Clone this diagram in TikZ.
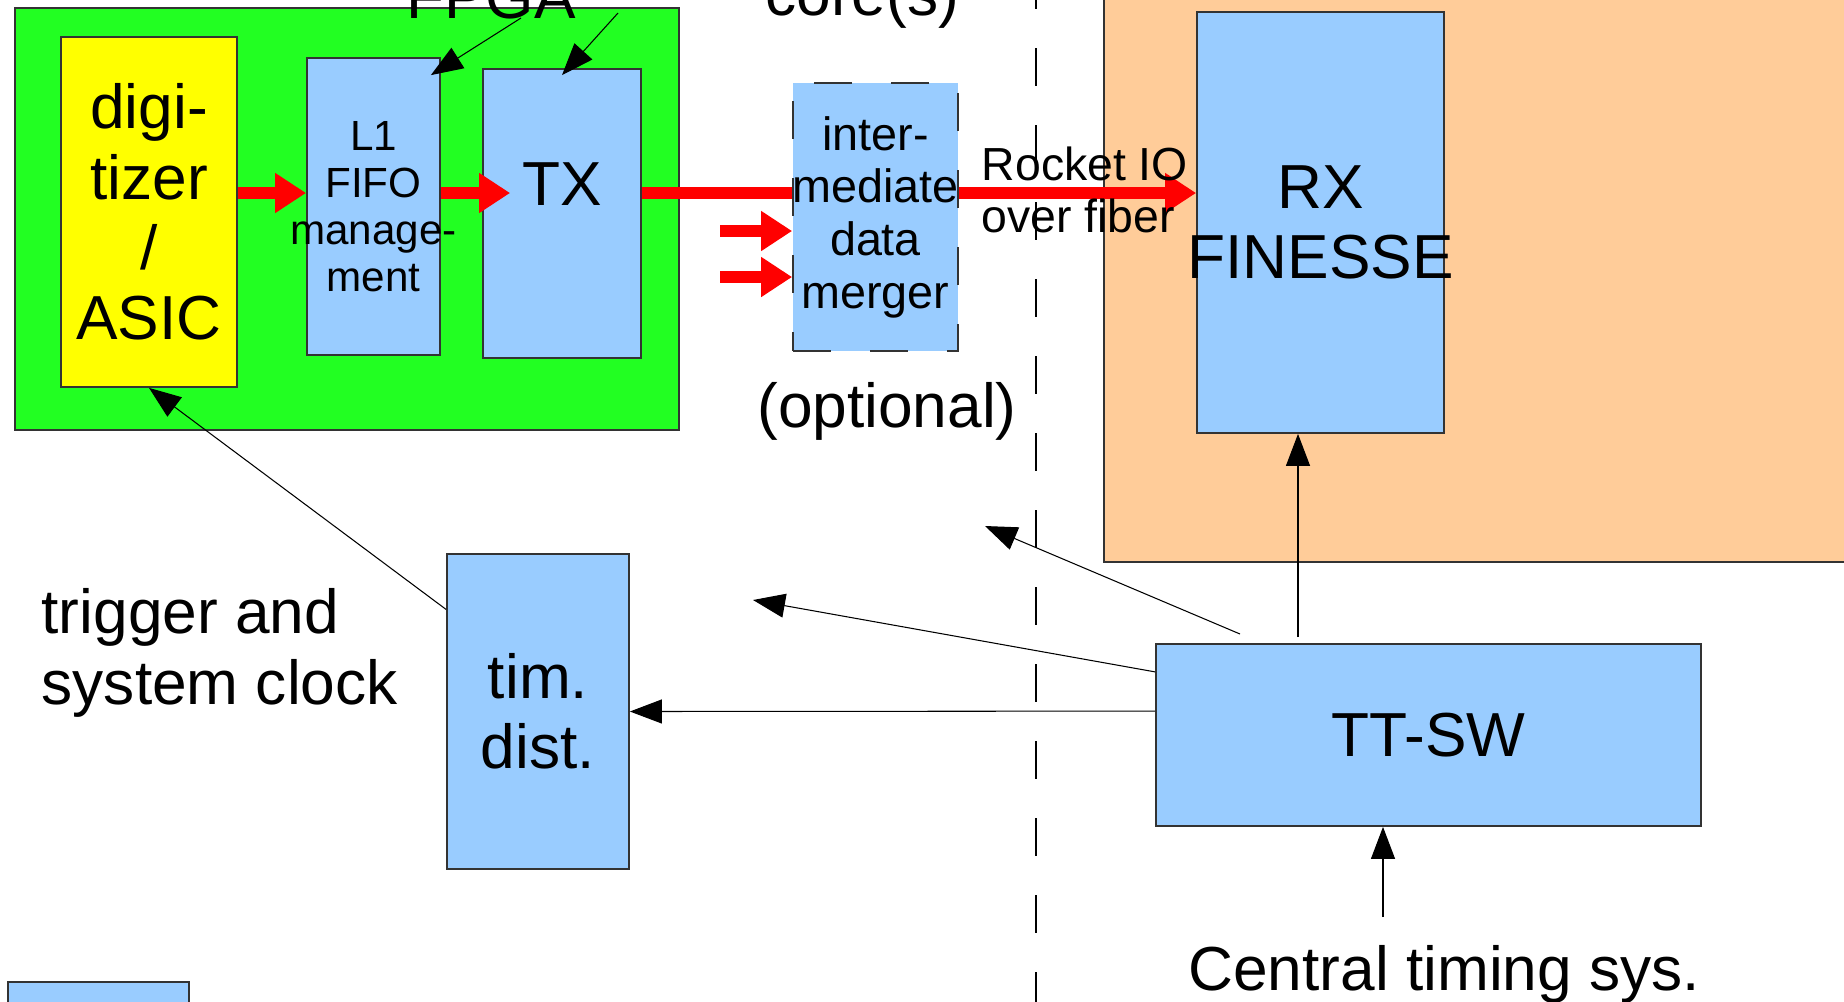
\documentclass[tikz,border=0pt]{standalone}
\usepackage{fontspec}
\setmainfont{Liberation Sans}
\usetikzlibrary{arrows.meta}
\definecolor{board}{HTML}{22FF22}
\definecolor{asic}{HTML}{FFFF00}
\definecolor{block}{HTML}{99CCFF}
\definecolor{backend}{HTML}{FFCC99}
\definecolor{datared}{HTML}{FF0000}
\definecolor{edge}{HTML}{333333}
\newcommand\fbig{\fontsize{17.7}{20}\selectfont}
\newcommand\fmid{\fontsize{13.3}{15}\selectfont}
\newcommand\fsmall{\fontsize{12}{13.4}\selectfont}
\newcommand\frocket{\fontsize{13.2}{14.8}\selectfont}

\begin{document}
\begin{tikzpicture}[
        box/.style={draw=edge,line width=0.5pt,fill=block,inner sep=0pt,align=center},
        arr/.style={-{Triangle[length=0.32cm,width=0.24cm]},line width=0.3pt},
        data/.style={-{Triangle[length=0.31cm,width=0.38cm]},draw=datared,line width=0.12cm},
        txt/.style={font=\fbig}
      ]
      \useasboundingbox (0,0) rectangle (18.44,-10.01);
      \clip (0,0) rectangle (18.44,-10.01);

      % back end side
      \draw[draw=edge,line width=0.5pt,fill=backend] (11.04,0.3) rectangle (18.8,-5.62);
      \draw[line width=0.4pt,dash pattern=on 0.38cm off 0.39cm] (10.36,0.29) -- (10.36,-10.3);

      % front end board
      \node[box,fill=board,minimum width=6.64cm,minimum height=4.22cm] (fpga) at (3.47,-2.19) {};
      \node[box,fill=asic,minimum width=1.76cm,minimum height=3.50cm,font=\fbig] (digi) at (1.49,-2.12) {digi-\\tizer\\/\\ASIC};
      \node[box,minimum width=1.33cm,minimum height=2.97cm,
        label={[font=\fsmall,align=center]center:L1\\FIFO\\manage-\\ment}] (fifo) at (3.735,-2.065) {};
      \node[box,minimum width=1.58cm,minimum height=2.89cm,
        label={[txt,yshift=0.29cm]center:TX}] (tx) at (5.62,-2.135) {};

      % receiver and timing
      \node[box,minimum width=2.47cm,minimum height=4.21cm,
        label={[txt,align=center]center:RX\\FINESSE}] (rx) at (13.205,-2.225) {};
      \node[box,minimum width=1.82cm,minimum height=3.15cm,font=\fbig] (timdist) at (5.38,-7.115) {tim.\\dist.};
      \node[box,minimum width=5.45cm,minimum height=1.82cm,font=\fbig] (ttsw) at (14.285,-7.35) {TT-SW};
      \node[box,minimum width=1.81cm,minimum height=0.56cm] (keybox) at (0.985,-10.1) {};

      % data path
      \coordinate (rl) at (0,-1.93);
      \coordinate (txin) at ([xshift=0.28cm]tx.west);
      \draw[data] (digi.east |- rl) -- (fifo.west |- rl);
      \draw[data] (fifo.east |- rl) -- (txin |- rl);
      \draw[datared,line width=0.12cm] (tx.east |- rl) -- (10,-1.93);
      \node[box,dash pattern=on 0.38cm off 0.39cm,minimum width=1.65cm,minimum height=2.68cm,
        label={[font=\fmid,align=center]center:inter-\\mediate\\data\\merger}] (merger) at (8.755,-2.17) {};
      \draw[data] (merger.east |- rl) -- (rx.west |- rl);
      \coordinate (in1) at (7.20,-2.31);
      \coordinate (in2) at (7.20,-2.77);
      \draw[data] (in1) -- (merger.west |- in1);
      \draw[data] (in2) -- (merger.west |- in2);

      % labels
      \node[txt,anchor=base west] (fpgalbl) at (3.94,-0.18) {FPGA};
      \node[txt,anchor=base west] (corelbl) at (7.53,-0.15) {core(s)};
      \node[font=\frocket,align=left,anchor=north west,inner sep=0pt] (rocket) at (9.81,-1.465) {Rocket IO\\over fiber};
      \node[txt,anchor=base] (optional) at (8.87,-4.27) {(optional)};
      \node[txt,align=left,anchor=north west,inner sep=0pt] (trigger) at (0.41,-5.88) {trigger and\\system clock};
      \node[txt,anchor=base west] (central) at (11.76,-9.90) {Central timing sys.};

      % pointers to the FPGA cores
      \coordinate (p1s) at (5.21,-0.18);
      \coordinate (p2s) at (6.18,-0.13);
      \draw[arr] (p1s) -- ([shift={(-0.10,-0.18)}]fifo.north east);
      \draw[arr] (p2s) -- ([yshift=-0.07cm]tx.north);

      % timing distribution
      \coordinate (a1s) at (12.40,-6.34);
      \coordinate (a1e) at (9.85,-5.26);
      \coordinate (a2e) at (7.53,-6.00);
      \coordinate (a5s) at (12.98,-6.37);
      \coordinate (a6s) at (13.83,-9.17);
      \draw[arr] (a1s) -- (a1e);
      \draw[arr] (ttsw.167) -- (a2e);
      \draw[arr] (ttsw.175) -- (timdist.east);
      \draw[arr] (timdist.132) -- (digi.south);
      \draw[arr] (a5s) -- (a5s |- rx.south);
      \draw[arr] (a6s) -- (a6s |- ttsw.south);
    \end{tikzpicture}
\end{document}
